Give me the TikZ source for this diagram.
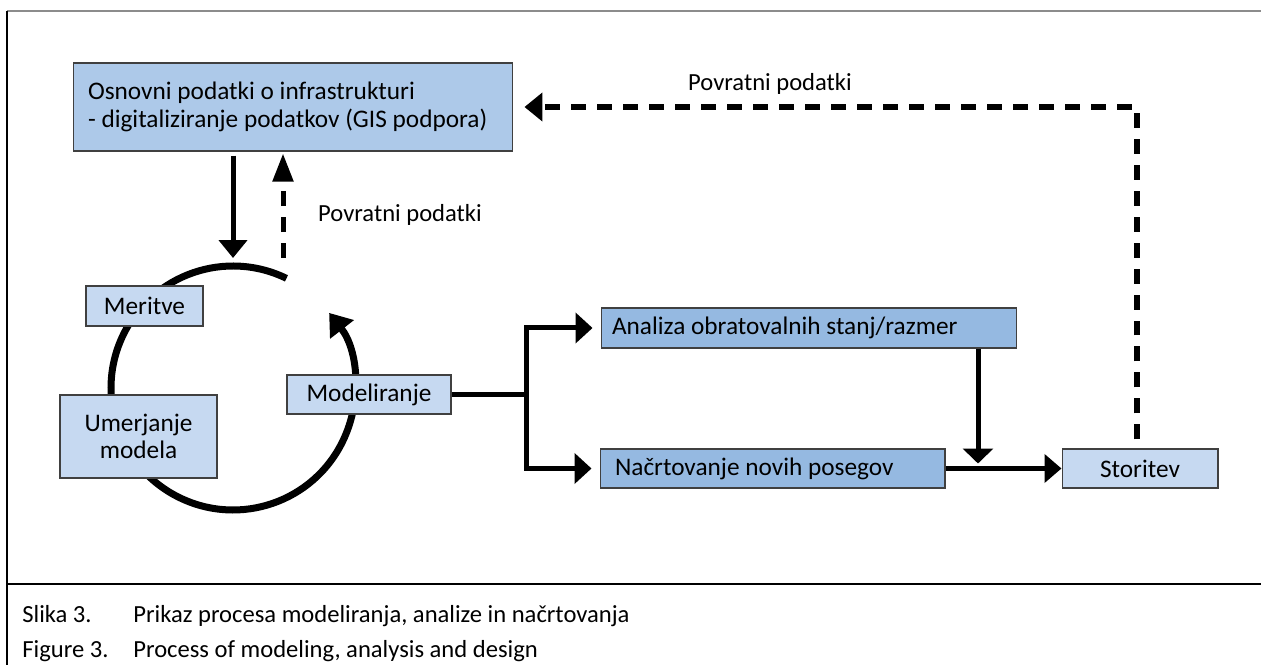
\documentclass[tikz,border=0pt]{standalone}
\usepackage{fontspec}
\setmainfont{Carlito}
\usetikzlibrary{arrows.meta,calc,positioning}

\definecolor{infrablue}{HTML}{ADC9E9}
\definecolor{lightblue}{HTML}{C6D9F1}
\definecolor{midblue}{HTML}{95B9E1}
\definecolor{edgegray}{HTML}{404040}
\definecolor{framegray}{HTML}{8C8C8C}

\newcommand\natspace{\spaceskip=0pt\relax\xspaceskip=0pt\relax}

\tikzset{
  box/.style={draw=edgegray, line width=0.6pt, inner ysep=0pt,
    font=\fontsize{14.4}{15.5}\selectfont, execute at begin node=\natspace},
  light/.style={box, fill=lightblue, inner xsep=0pt},
  dark/.style={box, fill=midblue},
  conn/.style={line width=0.1cm},
  fb/.style={conn, dash pattern=on 0.3cm off 0.22cm},
  lbl/.style={font=\fontsize{14}{15.5}\selectfont},
  captxt/.style={anchor=base west, inner sep=0pt, font=\fontsize{14}{16}\selectfont},
}

\begin{document}
\begin{tikzpicture}[x=0.02cm, y=-0.02cm]
\useasboundingbox (0,0) rectangle (1261,665);

% frame
\draw[framegray, line width=0.04cm] (7,11) -- (1261,11);
\draw[line width=0.03cm] (7,11) -- (7,665);
\draw[line width=0.03cm] (7,584) -- (1261,584);

% modelling cycle
\coordinate (ctr) at (233,388);
\draw[line width=0.14cm, -{Triangle[width=0.58cm, length=0.42cm]}]
  ($(ctr)+(64:2.44cm)$) arc[start angle=64, end angle=398, radius=2.44cm];

\node[box, fill=infrablue, text width=8.2cm, inner xsep=0.3cm,
  minimum height=1.76cm] (infra) at (293,107)
  {\mbox{Osnovni podatki o infrastrukturi}\\\mbox{- digitaliziranje podatkov (GIS podpora)}};
\node[light, minimum width=2.34cm, minimum height=0.8cm] (meritve) at (144.5,306) {Meritve};
\node[light, align=center, minimum width=3.14cm, minimum height=1.66cm] (umerjanje) at (138.5,436.5)
  {Umerjanje\\modela};
\node[light, minimum width=3.28cm, minimum height=0.78cm] (model) at (369,394.5) {Modeliranje};
\node[dark, text width=7.88cm, inner xsep=0.22cm, minimum height=0.8cm] (analiza) at (809,328)
  {\mbox{Analiza obratovalnih stanj/razmer}};
\node[dark, text width=6.3cm, inner xsep=0.3cm, minimum height=0.78cm] (nacrt) at (772.5,468.5)
  {\mbox{Načrtovanje novih posegov}};
\node[light, minimum width=3.12cm, minimum height=0.78cm] (storitev) at (1140,468.5) {Storitev};

% labels
\node[lbl] (fbtop) at (770,84) {Povratni podatki};
\node[lbl] (fbmid) at (400,215) {Povratni podatki};

% connectors
\coordinate (ctop) at (233,258);
\coordinate (cend) at (283,258);
\draw[conn, -{Triangle[width=0.56cm, length=0.36cm]}]
  ([yshift=-0.08cm]infra.south -| ctop) -- (ctop);
\draw[fb, -{Triangle[width=0.4cm, length=0.56cm]}]
  (cend) -- ([yshift=-0.04cm]infra.south -| cend);

\coordinate (fork) at (526,394.5);
\draw[conn] (model.east) -- (fork);
\draw[conn, -{Triangle[width=0.6cm, length=0.34cm]}]
  (fork) |- ([xshift=-0.16cm]analiza.west);
\draw[conn, -{Triangle[width=0.6cm, length=0.34cm]}]
  (fork) |- ([xshift=-0.16cm]nacrt.west);

\coordinate (join) at (978,468.5);
\draw[conn, -{Triangle[width=0.6cm, length=0.3cm]}]
  (analiza.south -| join) -- ([yshift=0.1cm]join);
\draw[conn, -{Triangle[width=0.56cm, length=0.34cm]}]
  (nacrt.east) -- (storitev.west);

\draw[fb, line width=0.12cm, -{Triangle[width=0.56cm, length=0.36cm]}]
  ([xshift=-0.06cm, yshift=0.18cm]storitev.north) |- ([xshift=0.22cm]infra.east);

% caption
\node[captxt] (slika) at (22,622) {Slika 3.};
\node[captxt] (slikatxt) at (133,622) {Prikaz procesa modeliranja, analize in načrtovanja};
\node[captxt] (figure) at (22,657) {Figure 3.};
\node[captxt] (figuretxt) at (133,657) {Process of modeling, analysis and design};
\end{tikzpicture}
\end{document}
